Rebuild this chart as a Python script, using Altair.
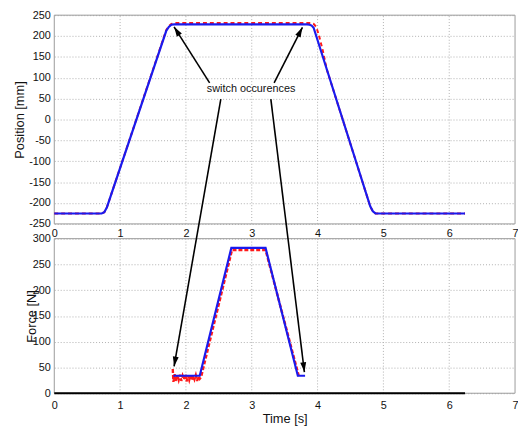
import math
import altair as alt
import pandas as pd

# ---------------- data ----------------
time_ticks = [0, 1, 2, 3, 4, 5, 6, 7]
position_ticks = [-250, -200, -150, -100, -50, 0, 50, 100, 150, 200, 250]
force_ticks = [0, 50, 100, 150, 200, 250, 300]
time_grid = [1, 2, 3, 4, 5, 6]

# position: red dashed curve
pos_red_t = [0.00, 0.72, 0.76, 0.80, 1.70, 1.74, 1.78, 1.82, 3.90, 3.94, 3.98,
             4.02, 4.08, 4.14, 4.80, 4.84, 4.88, 4.92, 6.24]
pos_red_v = [-225, -225, -222, -210, 214, 224, 229, 231, 231, 229, 222,
             202, 165, 120, -208, -220, -225, -225, -225]
# position: blue solid curve
pos_blue_t = [0.00, 0.72, 0.76, 0.80, 1.70, 1.74, 1.78, 1.82, 3.84, 3.88, 3.91,
              3.94, 4.80, 4.84, 4.88, 4.92, 6.24]
pos_blue_v = [-225, -225, -222, -210, 212, 222, 227, 228, 228, 227, 225,
              220, -208, -220, -225, -225, -225]

# force: red dashed (noisy) curve
force_red_t = [1.80, 1.81, 1.83, 1.85, 1.87, 1.89, 1.91, 1.93, 1.95, 1.97, 1.99,
               2.01, 2.03, 2.05, 2.07, 2.09, 2.11, 2.13, 2.15, 2.17, 2.19, 2.21,
               2.23, 2.70, 3.21, 3.72]
force_red_v = [47, 22, 37, 24, 35, 26, 36, 24, 34, 27, 37,
               23, 35, 26, 36, 25, 34, 27, 35, 24, 33, 28,
               31, 278, 278, 31]
# force: blue solid curve
force_blue_t = [1.81, 2.21, 2.69, 3.21, 3.70, 3.81]
force_blue_v = [34, 34, 282, 282, 34, 34]
# force: black zero line
force_zero_t = [0.00, 6.24]
force_zero_v = [0, 0]

# annotation
note_text = "switch occurences"
note_t, note_p = 2.99, 72
up_start_t, up_start_p = [2.36, 3.34], [88, 88]
up_tip_t, up_tip_p = [1.82, 3.77], [222, 221]
down_start_t, down_start_f = [2.53, 3.29], [571, 571]
down_tip_t, down_tip_f = [1.82, 3.80], [52, 41]

# ---------------- layout ----------------
W, H = 468, 384
TOP_H = 212
BOT_Y0 = 227
FONT = "Liberation Sans"
GRID = "#b0b0b0"
FRAME = "#9a9a9a"
LABEL_EXPR = "replace(datum.label, '\u2212', '-')"


def sx():
    return alt.Scale(domain=[time_ticks[0], time_ticks[-1]], nice=False, zero=False)


def sy_top():
    return alt.Scale(domain=[position_ticks[0], position_ticks[-1]], range=[TOP_H, 0],
                     nice=False, zero=False)


def sy_bot():
    return alt.Scale(domain=[force_ticks[0], force_ticks[-1]], range=[H, BOT_Y0],
                     nice=False, zero=False)


def px(t):
    return t * W / (time_ticks[-1] - time_ticks[0])


def py_top(p):
    return (position_ticks[-1] - p) * TOP_H / (position_ticks[-1] - position_ticks[0])


def py_bot(f):
    return BOT_Y0 + (force_ticks[-1] - f) * (H - BOT_Y0) / (force_ticks[-1] - force_ticks[0])


def angle(x0, y0, x1, y1):
    return math.degrees(math.atan2(x1 - x0, -(y1 - y0))) % 360


# ---------------- tables ----------------
frame_top_df = pd.DataFrame({"t0": [time_ticks[0]], "t1": [time_ticks[-1]],
                             "v0": [position_ticks[0]], "v1": [position_ticks[-1]]})
frame_bot_df = pd.DataFrame({"t0": [time_ticks[0]], "t1": [time_ticks[-1]],
                             "v0": [force_ticks[0]], "v1": [force_ticks[-1]]})
grid_top_df = pd.DataFrame({"t": time_grid, "v0": [position_ticks[0]] * len(time_grid),
                            "v1": [position_ticks[-1]] * len(time_grid)})
grid_bot_df = pd.DataFrame({"t": time_grid, "v0": [force_ticks[0]] * len(time_grid),
                            "v1": [force_ticks[-1]] * len(time_grid)})
pos_red_df = pd.DataFrame({"t": pos_red_t, "v": pos_red_v})
pos_blue_df = pd.DataFrame({"t": pos_blue_t, "v": pos_blue_v})
force_red_df = pd.DataFrame({"t": force_red_t, "v": force_red_v})
force_blue_df = pd.DataFrame({"t": force_blue_t, "v": force_blue_v})
force_zero_df = pd.DataFrame({"t": force_zero_t, "v": force_zero_v})

up_df = pd.DataFrame({"t0": up_start_t, "v0": up_start_p, "t1": up_tip_t, "v1": up_tip_p})
up_df["ang"] = [angle(px(a), py_top(b), px(c), py_top(d))
                for a, b, c, d in zip(up_start_t, up_start_p, up_tip_t, up_tip_p)]
down_df = pd.DataFrame({"t0": down_start_t, "v0": down_start_f, "t1": down_tip_t, "v1": down_tip_f})
down_df["ang"] = [angle(px(a), py_bot(b), px(c), py_bot(d))
                  for a, b, c, d in zip(down_start_t, down_start_f, down_tip_t, down_tip_f)]
note_df = pd.DataFrame({"t": [note_t], "v": [note_p], "label": [note_text]})

HEAD = "M0,0 L-0.6,2 L0.6,2 Z"

# ---------------- axes ----------------
top_y_axis = alt.Axis(values=position_ticks, title="Position [mm]", grid=True, orient="left",
                      labelPadding=4, titleX=-35, titleBaseline="middle", labelExpr=LABEL_EXPR)
top_x_axis = alt.Axis(values=time_ticks, title=None, grid=False, orient="bottom",
                      offset=-(H - TOP_H), labelPadding=4)
bot_y_axis = alt.Axis(values=force_ticks, title="Force [N]", grid=True, orient="left",
                      labelPadding=4, titleX=-23, titleBaseline="middle")
bot_x_axis = alt.Axis(values=time_ticks, title="Time [s]", grid=False, orient="bottom",
                      labelPadding=7, titleY=26, titleBaseline="middle")

# ---------------- layers ----------------
frame_top = alt.Chart(frame_top_df).mark_rect(fillOpacity=0, stroke=FRAME, strokeWidth=1).encode(
    x=alt.X("t0:Q", scale=sx(), axis=top_x_axis), x2="t1:Q",
    y=alt.Y("v0:Q", scale=sy_top(), axis=top_y_axis), y2="v1:Q")
frame_bot = alt.Chart(frame_bot_df).mark_rect(fillOpacity=0, stroke=FRAME, strokeWidth=1).encode(
    x=alt.X("t0:Q", scale=sx(), axis=bot_x_axis), x2="t1:Q",
    y=alt.Y("v0:Q", scale=sy_bot(), axis=bot_y_axis), y2="v1:Q")
grid_top = alt.Chart(grid_top_df).mark_rule(stroke=GRID, strokeWidth=1, strokeDash=[1, 2]).encode(
    x=alt.X("t:Q", scale=sx(), axis=None),
    y=alt.Y("v0:Q", scale=sy_top(), axis=None), y2="v1:Q")
grid_bot = alt.Chart(grid_bot_df).mark_rule(stroke=GRID, strokeWidth=1, strokeDash=[1, 2]).encode(
    x=alt.X("t:Q", scale=sx(), axis=None),
    y=alt.Y("v0:Q", scale=sy_bot(), axis=None), y2="v1:Q")


def curve(df, yscale, color, width, dash=None):
    kw = dict(color=color, strokeWidth=width)
    if dash:
        kw["strokeDash"] = dash
    return alt.Chart(df).mark_line(**kw).encode(
        x=alt.X("t:Q", scale=sx(), axis=None),
        y=alt.Y("v:Q", scale=yscale, axis=None),
        order="t:Q")


pos_red = curve(pos_red_df, sy_top(), "#ff1a1a", 2, [4, 3])
pos_blue = curve(pos_blue_df, sy_top(), "#1a1aee", 2.2)
force_zero = curve(force_zero_df, sy_bot(), "#000000", 2.2)
force_red = curve(force_red_df, sy_bot(), "#ff1a1a", 2.4, [4, 2])
force_blue = curve(force_blue_df, sy_bot(), "#1a1aee", 2.2)

up_lines = alt.Chart(up_df).mark_rule(color="black", strokeWidth=1.6).encode(
    x=alt.X("t0:Q", scale=sx(), axis=None), x2="t1:Q",
    y=alt.Y("v0:Q", scale=sy_top(), axis=None), y2="v1:Q")
up_heads = alt.Chart(up_df).mark_point(shape=HEAD, filled=True, color="black", size=100,
                                       opacity=1, strokeWidth=0).encode(
    x=alt.X("t1:Q", scale=sx(), axis=None),
    y=alt.Y("v1:Q", scale=sy_top(), axis=None),
    angle=alt.Angle("ang:Q", scale=None))
down_lines = alt.Chart(down_df).mark_rule(color="black", strokeWidth=1.6).encode(
    x=alt.X("t0:Q", scale=sx(), axis=None), x2="t1:Q",
    y=alt.Y("v0:Q", scale=sy_bot(), axis=None), y2="v1:Q")
down_heads = alt.Chart(down_df).mark_point(shape=HEAD, filled=True, color="black", size=100,
                                           opacity=1, strokeWidth=0).encode(
    x=alt.X("t1:Q", scale=sx(), axis=None),
    y=alt.Y("v1:Q", scale=sy_bot(), axis=None),
    angle=alt.Angle("ang:Q", scale=None))
note = alt.Chart(note_df).mark_text(font=FONT, fontSize=11, color="#111",
                                    align="center", baseline="middle").encode(
    x=alt.X("t:Q", scale=sx(), axis=None),
    y=alt.Y("v:Q", scale=sy_top(), axis=None),
    text="label:N")

chart = alt.layer(
    frame_top, frame_bot, grid_top, grid_bot,
    pos_red, pos_blue, force_zero, force_red, force_blue,
    up_lines, down_lines, up_heads, down_heads, note,
).resolve_scale(x="independent", y="independent").properties(
    width=W, height=H,
    autosize=alt.AutoSizeParams(type="none"),
    padding={"left": 47, "top": 4, "right": 3, "bottom": 31},
).configure(font=FONT).configure_view(strokeWidth=0).configure_axis(
    labelFont=FONT, labelFontSize=11, labelColor="#111",
    titleFont=FONT, titleFontSize=13, titleFontWeight="normal", titleColor="#111",
    gridColor=GRID, gridDash=[1, 2], gridWidth=1,
    ticks=False, domain=False, labelFlush=False, labelOverlap=False,
)

chart.save("out.html", embed_options={"renderer": "svg", "actions": False})
